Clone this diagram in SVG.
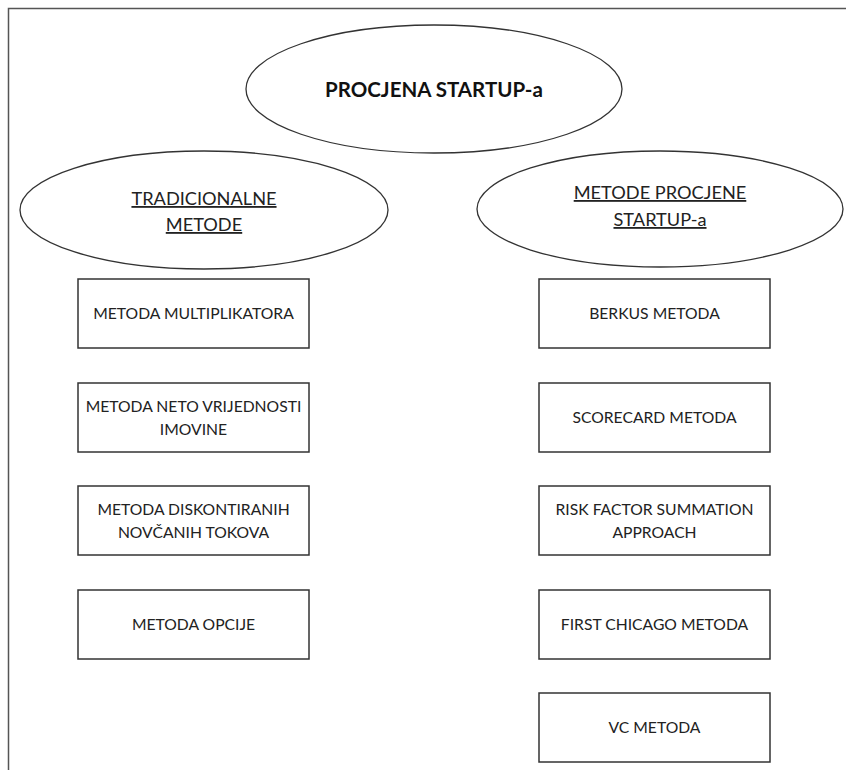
<svg xmlns="http://www.w3.org/2000/svg" width="846" height="770" viewBox="0 0 846 770">
<style>
.frame{stroke:#555;stroke-width:1.5;fill:none}
.ell{fill:#fff;stroke:#333;stroke-width:1.3}
.box{fill:#fff;stroke:#333;stroke-width:1.5}
.t{font-family:Lato,"Liberation Sans",sans-serif;font-size:15.7px;fill:#222;text-anchor:middle}
.et{font-family:Lato,"Liberation Sans",sans-serif;font-size:18.2px;fill:#222;text-anchor:middle;text-decoration:underline}
.title{font-family:Lato,"Liberation Sans",sans-serif;font-size:20.5px;font-weight:bold;fill:#111;text-anchor:middle}
</style>
<rect width="846" height="770" fill="#fff"/>
<g id="frame">
<path class="frame" d="M8.5 770 V8.5 H846"/>
</g>
<g id="connectors"></g>
<g id="root">
<ellipse class="ell" cx="434" cy="89" rx="188" ry="64"/>
<text class="title" x="434" y="97">PROCJENA STARTUP-a</text>
</g>
<g id="trad">
<ellipse class="ell" cx="204" cy="210" rx="184" ry="59"/>
<text class="et" x="204" y="205">TRADICIONALNE</text>
<text class="et" x="204" y="231">METODE</text>
</g>
<g id="startup">
<ellipse class="ell" cx="660" cy="209" rx="183" ry="58"/>
<text class="et" x="660" y="199">METODE PROCJENE</text>
<text class="et" x="660" y="226">STARTUP-a</text>
</g>
<g id="n1"><rect class="box" x="78" y="279" width="231" height="69"/><text class="t" x="193.5" y="319">METODA MULTIPLIKATORA</text></g>
<g id="n2"><rect class="box" x="78" y="383" width="231" height="69"/><text class="t" x="193.5" y="411.5">METODA NETO VRIJEDNOSTI</text><text class="t" x="193.5" y="434.5">IMOVINE</text></g>
<g id="n3"><rect class="box" x="78" y="486" width="231" height="69"/><text class="t" x="193.5" y="514.5">METODA DISKONTIRANIH</text><text class="t" x="193.5" y="537.5">NOVČANIH TOKOVA</text></g>
<g id="n4"><rect class="box" x="78" y="590" width="231" height="69"/><text class="t" x="193.5" y="630">METODA OPCIJE</text></g>
<g id="m1"><rect class="box" x="539" y="279" width="231" height="69"/><text class="t" x="654.5" y="319">BERKUS METODA</text></g>
<g id="m2"><rect class="box" x="539" y="383" width="231" height="69"/><text class="t" x="654.5" y="423">SCORECARD METODA</text></g>
<g id="m3"><rect class="box" x="539" y="486" width="231" height="69"/><text class="t" x="654.5" y="514.5">RISK FACTOR SUMMATION</text><text class="t" x="654.5" y="537.5">APPROACH</text></g>
<g id="m4"><rect class="box" x="539" y="590" width="231" height="69"/><text class="t" x="654.5" y="630">FIRST CHICAGO METODA</text></g>
<g id="m5"><rect class="box" x="539" y="693" width="231" height="69"/><text class="t" x="654.5" y="733">VC METODA</text></g>
</svg>
